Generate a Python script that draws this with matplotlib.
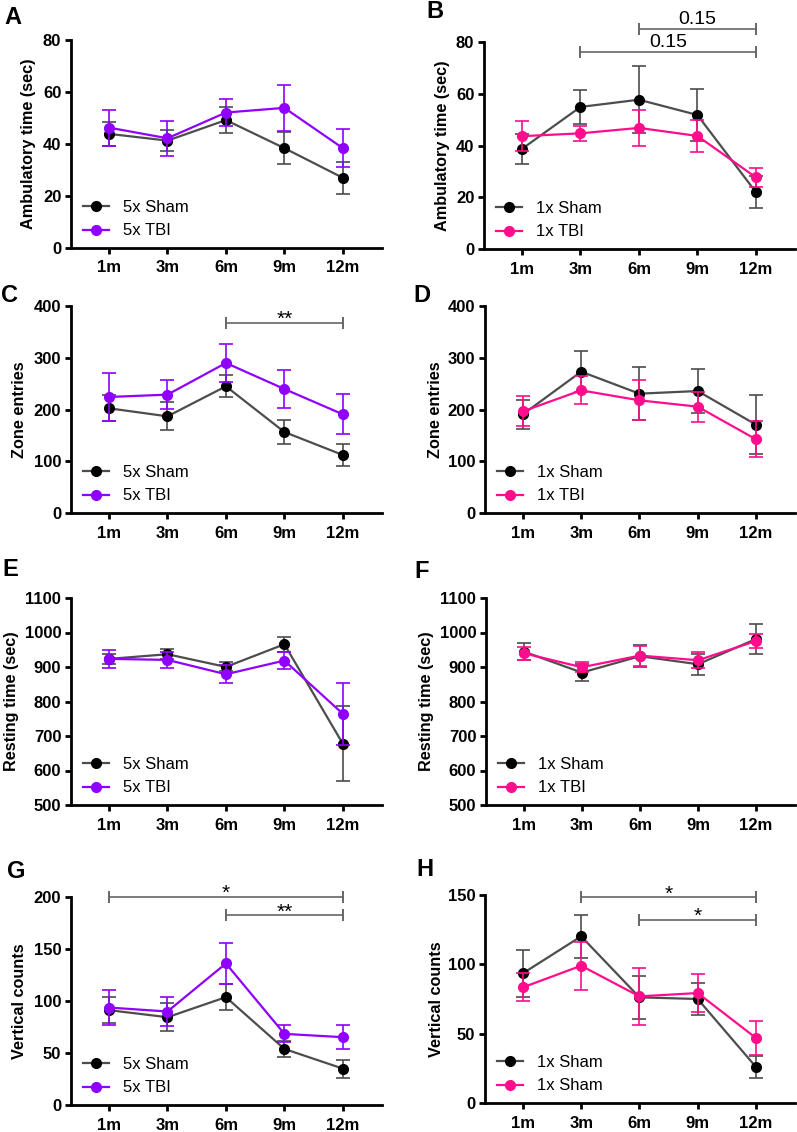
import matplotlib
matplotlib.use("Agg")
import matplotlib.pyplot as plt
import numpy as np

plt.rcParams['font.family'] = ['Liberation Sans', 'DejaVu Sans']

timepoints = ["1m", "3m", "6m", "9m", "12m"]

# Panel A: 5x ambulatory time
a_sham = [43.9, 41.3, 49.2, 38.4, 27.0]
a_sham_err = [4.5, 3.9, 5.1, 6.1, 6.1]
a_tbi = [46.3, 42.2, 52.1, 53.9, 38.4]
a_tbi_err = [6.9, 6.8, 5.2, 8.8, 7.3]
# Panel B: 1x ambulatory time
b_sham = [38.7, 54.9, 57.7, 51.8, 22.0]
b_sham_err = [5.8, 6.7, 12.9, 9.9, 6.1]
b_tbi = [43.6, 44.7, 46.8, 43.7, 27.7]
b_tbi_err = [5.7, 3.0, 7.1, 6.3, 3.7]
# Panel C: 5x zone entries
c_sham = [202.3, 186.8, 244.8, 156.5, 112.1]
c_sham_err = [25, 27, 21, 23.5, 21.5]
c_tbi = [224.2, 228.7, 289.9, 239.6, 190.7]
c_tbi_err = [46, 28, 37.5, 37.5, 38.6]
# Panel D: 1x zone entries
d_sham = [190.7, 273.1, 230.6, 235.7, 170.7]
d_sham_err = [28, 39, 51, 42, 57.5]
d_tbi = [196.5, 237.0, 217.7, 205.5, 142.4]
d_tbi_err = [29, 27, 38.5, 29, 34.5]
# Panel E: 5x resting time
e_sham = [923.5, 937.0, 900.3, 965.9, 677.5]
e_sham_err = [15, 15, 13, 22, 109]
e_tbi = [923.5, 920.6, 879.0, 918.6, 764.3]
e_tbi_err = [27, 24, 26, 25.5, 89]
# Panel F: 1x resting time
f_sham = [944.7, 883.9, 931.2, 908.0, 981.3]
f_sham_err = [25, 24, 32.5, 30.5, 43]
f_tbi = [939.9, 899.3, 933.1, 919.6, 975.5]
f_tbi_err = [19, 14, 29, 23, 21]
# Panel G: 5x vertical counts
g_sham = [91.2, 84.4, 103.7, 53.9, 35.0]
g_sham_err = [12.5, 13.6, 12.5, 8, 8.7]
g_tbi = [93.7, 89.9, 136.1, 68.4, 65.2]
g_tbi_err = [17, 13.8, 19.6, 8.2, 11.4]
# Panel H: 1x vertical counts
h_sham = [93.5, 120.2, 76.2, 75.0, 26.0]
h_sham_err = [17, 15.5, 15.6, 11.5, 8]
h_tbi = [83.4, 99.0, 76.9, 79.3, 46.9]
h_tbi_err = [10, 17.3, 20.4, 14, 12]

SHAM_MK = "black"
SHAM_LN = "#4d4d4d"
PURPLE = "#8F00FF"
PINK = "#FF0D8C"
SIGC = "#666666"
W, H = 797, 1132

fig = plt.figure(figsize=(W / 100, H / 100), dpi=100)

def add_ax(l, t, r, b):
    return fig.add_axes([l / W, 1 - b / H, (r - l) / W, (b - t) / H])

panels = [
    dict(box=(71, 40, 382, 248), letter="A", lpos=(13, 18), ylim=(0, 80), yt=[0, 20, 40, 60, 80],
         ylabel="Ambulatory time (sec)", lx=-0.111, s=(a_sham, a_sham_err), t=(a_tbi, a_tbi_err),
         tc=PURPLE, labels=("5x Sham", "5x TBI"), sig=[]),
    dict(box=(484, 42, 795, 249), letter="B", lpos=(435, 11), ylim=(0, 80), yt=[0, 20, 40, 60, 80],
         ylabel="Ambulatory time (sec)", lx=-0.108, s=(b_sham, b_sham_err), t=(b_tbi, b_tbi_err),
         tc=PINK, labels=("1x Sham", "1x TBI"), sig=[(2, 4, 85.1, "0.15"), (1, 4, 76.0, "0.15")]),
    dict(box=(71, 306, 382, 513), letter="C", lpos=(10, 295), ylim=(0, 400), yt=[0, 100, 200, 300, 400],
         ylabel="Zone entries", lx=-0.143, s=(c_sham, c_sham_err), t=(c_tbi, c_tbi_err),
         tc=PURPLE, labels=("5x Sham", "5x TBI"), sig=[(2, 4, 367.8, "**")]),
    dict(box=(485, 306, 795, 513), letter="D", lpos=(422, 295), ylim=(0, 400), yt=[0, 100, 200, 300, 400],
         ylabel="Zone entries", lx=-0.137, s=(d_sham, d_sham_err), t=(d_tbi, d_tbi_err),
         tc=PINK, labels=("1x Sham", "1x TBI"), sig=[]),
    dict(box=(71, 598, 382, 805), letter="E", lpos=(10, 569), ylim=(500, 1100),
         yt=[500, 600, 700, 800, 900, 1000, 1100],
         ylabel="Resting time (sec)", lx=-0.166, s=(e_sham, e_sham_err), t=(e_tbi, e_tbi_err),
         tc=PURPLE, labels=("5x Sham", "5x TBI"), sig=[]),
    dict(box=(486, 598, 795, 805), letter="F", lpos=(422, 571), ylim=(500, 1100),
         yt=[500, 600, 700, 800, 900, 1000, 1100],
         ylabel="Resting time (sec)", lx=-0.167, s=(f_sham, f_sham_err), t=(f_tbi, f_tbi_err),
         tc=PINK, labels=("1x Sham", "1x TBI"), sig=[]),
    dict(box=(71, 897, 382, 1105), letter="G", lpos=(16, 872), ylim=(0, 200), yt=[0, 50, 100, 150, 200],
         ylabel="Vertical counts", lx=-0.143, s=(g_sham, g_sham_err), t=(g_tbi, g_tbi_err),
         tc=PURPLE, labels=("5x Sham", "5x TBI"), sig=[(0, 4, 200, "*"), (2, 4, 182.3, "**")]),
    dict(box=(485, 895, 795, 1103), letter="H", lpos=(425, 870), ylim=(0, 150), yt=[0, 50, 100, 150],
         ylabel="Vertical counts", lx=-0.131, s=(h_sham, h_sham_err), t=(h_tbi, h_tbi_err),
         tc=PINK, labels=("1x Sham", "1x Sham"), sig=[(1, 4, 148.3, "*"), (2, 4, 132.0, "*")]),
]

x = np.arange(len(timepoints))

for p in panels:
    ax = add_ax(*p["box"])
    sv, se = p["s"]
    tv, te = p["t"]
    # sham
    ax.errorbar(x, sv, yerr=se, fmt='none', ecolor=SHAM_LN, elinewidth=1.2, capsize=5, capthick=1.2,
                zorder=2, clip_on=False)
    ax.plot(x, sv, color=SHAM_LN, lw=1.6, zorder=3, clip_on=False)
    ax.plot(x, sv, 'o', color=SHAM_MK, ms=7, zorder=4, clip_on=False)
    # tbi
    ax.errorbar(x, tv, yerr=te, fmt='none', ecolor=p["tc"], elinewidth=1.2, capsize=5, capthick=1.2,
                zorder=5, clip_on=False)
    ax.plot(x, tv, color=p["tc"], lw=1.6, zorder=6, clip_on=False)
    ax.plot(x, tv, 'o', color=p["tc"], ms=7, zorder=7, clip_on=False)

    # legend proxies
    h1, = ax.plot([], [], '-o', color=SHAM_LN, mfc=SHAM_MK, mec=SHAM_MK, ms=7, lw=1.6)
    h2, = ax.plot([], [], '-o', color=p["tc"], ms=7, lw=1.6)
    ax.legend([h1, h2], list(p["labels"]), loc='lower left', bbox_to_anchor=(0.0, -0.01),
              frameon=False, fontsize=12, handlelength=1.6, handletextpad=0.8,
              labelspacing=0.5, borderpad=0.2)

    ax.set_xlim(-0.65, 4.67)
    ax.set_ylim(*p["ylim"])
    ax.set_yticks(p["yt"])
    ax.set_xticks(x)
    ax.set_xticklabels(timepoints)
    for s in ("top", "right"):
        ax.spines[s].set_visible(False)
    for s in ("left", "bottom"):
        ax.spines[s].set_linewidth(2.0)
    ax.tick_params(axis='both', width=2.0, length=4, labelsize=12, pad=3)
    ax.tick_params(axis='x', pad=5)
    for lab in ax.get_xticklabels() + ax.get_yticklabels():
        lab.set_fontweight('bold')
    ax.set_ylabel(p["ylabel"], fontsize=11.7, fontweight='bold')
    ax.yaxis.set_label_coords(p["lx"], 0.5)

    for (i0, i1, yv, txt) in p["sig"]:
        ax.plot([x[i0], x[i1]], [yv, yv], color=SIGC, lw=1.2, clip_on=False, zorder=8)
        for xi in (x[i0], x[i1]):
            ax.plot([xi, xi], [yv, yv], marker='|', ms=8, mew=1.2, color=SIGC, clip_on=False, zorder=8)
        if txt == "0.15":
            ax.annotate(txt, xy=((x[i0] + x[i1]) / 2, yv), xytext=(0, 7), textcoords="offset points",
                        ha='center', va='center', fontsize=14, annotation_clip=False)
        else:
            ax.annotate(txt, xy=((x[i0] + x[i1]) / 2, yv), xytext=(0, -1.5), textcoords="offset points",
                        ha='center', va='baseline', fontsize=15, annotation_clip=False)

    fig.text(p["lpos"][0] / W, 1 - p["lpos"][1] / H, p["letter"], fontsize=17, fontweight='bold',
             ha='center', va='center')

fig.savefig("out.png", dpi=100)
